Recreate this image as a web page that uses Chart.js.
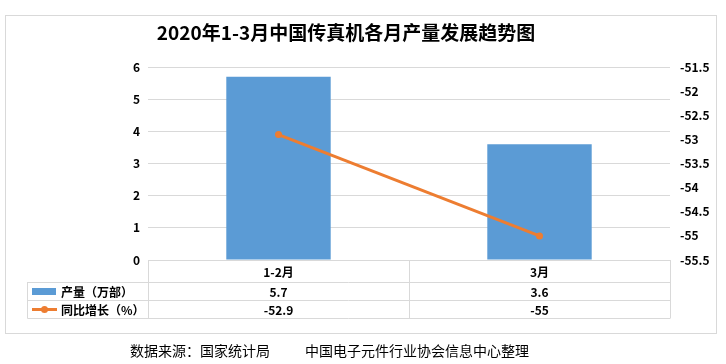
<!DOCTYPE html>
<html>
<head>
<meta charset="utf-8">
<script src="https://cdn.jsdelivr.net/npm/chart.js@4/dist/chart.umd.min.js"></script>
<style>
  html, body { margin: 0; padding: 0; background: #fff; }
  #wrap { width: 726px; height: 364px; }
</style>
</head>
<body>
<div id="wrap"><canvas id="comboChart" width="726" height="364"></canvas></div>
<script>
var months = ["1-2月", "3月"];
var outputValues = [5.7, 3.6];
var growthValues = [-52.9, -55];
var seriesNames = ["产量（万部）", "同比增长（%）"];
var chartTitle = "2020年1-3月中国传真机各月产量发展趋势图";
var sourceNotes = ["数据来源：国家统计局", "中国电子元件行业协会信息中心整理"];

var blue = "#5B9BD5";
var orange = "#ED7D31";
var gridGray = "#d9d9d9";
var cjk = '"Noto Sans CJK SC", "Noto Sans", sans-serif';

// frame, title, source note and the data table under the plot
var tablePlugin = {
  id: "tablePlugin",
  afterDraw: function (chart) {
    var ctx = chart.ctx;
    var area = chart.chartArea;
    var xs = chart.scales.x;
    var c0 = xs.getPixelForValue(0);
    var c1 = xs.getPixelForValue(1);
    var mid = (c0 + c1) / 2;
    var top = area.bottom;
    var r1 = top + 22, r2 = r1 + 18, r3 = r2 + 18;
    var legLeft = 27.5;

    ctx.save();
    // outer frame
    ctx.strokeStyle = gridGray;
    ctx.lineWidth = 1;
    ctx.strokeRect(5.5, 15.5, 711, 318);

    // title
    ctx.fillStyle = "#000";
    ctx.font = "bold 19px " + cjk;
    ctx.textAlign = "center";
    ctx.textBaseline = "middle";
    ctx.fillText(chartTitle, 346, 33);

    // table lines
    ctx.strokeStyle = gridGray;
    ctx.beginPath();
    ctx.moveTo(area.left, top + 0.5); ctx.lineTo(area.right, top + 0.5);
    [r1, r2, r3].forEach(function (y) {
      ctx.moveTo(legLeft, y + 0.5); ctx.lineTo(area.right, y + 0.5);
    });
    [area.left, mid, area.right].forEach(function (x) {
      var xx = Math.round(x) + 0.5;
      ctx.moveTo(xx, top); ctx.lineTo(xx, r3 + 0.5);
    });
    ctx.moveTo(legLeft, r1); ctx.lineTo(legLeft, r3 + 0.5);
    ctx.stroke();

    // header and values
    ctx.fillStyle = "#000";
    ctx.font = "bold 12px " + cjk;
    ctx.textAlign = "center";
    months.forEach(function (m, i) {
      var cx = xs.getPixelForValue(i);
      ctx.fillText(m, cx, (top + r1) / 2 + 1);
      ctx.fillText(String(outputValues[i]), cx, (r1 + r2) / 2 + 1);
      ctx.fillText(String(growthValues[i]), cx, (r2 + r3) / 2 + 1);
    });

    // legend keys
    ctx.fillStyle = blue;
    ctx.fillRect(32, (r1 + r2) / 2 - 3, 24, 7);
    ctx.strokeStyle = orange;
    ctx.lineWidth = 3;
    ctx.beginPath();
    ctx.moveTo(32, (r2 + r3) / 2 + 0.5);
    ctx.lineTo(57, (r2 + r3) / 2 + 0.5);
    ctx.stroke();
    ctx.fillStyle = orange;
    ctx.beginPath();
    ctx.arc(44.5, (r2 + r3) / 2 + 0.5, 3.5, 0, Math.PI * 2);
    ctx.fill();

    ctx.fillStyle = "#000";
    ctx.textAlign = "left";
    ctx.fillText(seriesNames[0], 61, (r1 + r2) / 2 + 1);
    ctx.fillText(seriesNames[1], 61, (r2 + r3) / 2 + 1);

    // source note
    ctx.font = "14px " + cjk;
    ctx.fillText(sourceNotes[0], 130, 351);
    ctx.fillText(sourceNotes[1], 305, 351);
    ctx.restore();
  }
};

var ctx = document.getElementById("comboChart").getContext("2d");

new Chart(ctx, {
  type: "bar",
  data: {
    labels: months,
    datasets: [{
      type: "line",
      label: seriesNames[1],
      data: growthValues,
      yAxisID: "y1",
      borderColor: orange,
      backgroundColor: orange,
      borderWidth: 3,
      pointRadius: 3.5,
      pointBackgroundColor: orange,
      pointBorderWidth: 0,
      tension: 0,
      order: 0
    }, {
      type: "bar",
      label: seriesNames[0],
      data: outputValues,
      yAxisID: "y",
      backgroundColor: blue,
      categoryPercentage: 0.8,
      barPercentage: 0.5,
      order: 1
    }]
  },
  options: {
    responsive: false,
    animation: false,
    layout: { padding: { left: 0, right: 0, top: 67, bottom: 104 } },
    plugins: {
      legend: { display: false },
      title: { display: false },
      tooltip: { enabled: false }
    },
    scales: {
      x: {
        display: false,
        grid: { display: false }
      },
      y: {
        position: "left",
        min: 0,
        max: 6,
        ticks: {
          stepSize: 1,
          padding: 8,
          color: "#000",
          font: { family: cjk, size: 12, weight: "bold" }
        },
        grid: { color: gridGray, drawTicks: false },
        border: { display: false },
        afterFit: function (scale) { scale.width = 148; }
      },
      y1: {
        position: "right",
        min: -55.5,
        max: -51.5,
        ticks: {
          stepSize: 0.5,
          padding: 10,
          color: "#000",
          font: { family: cjk, size: 12, weight: "bold" },
          callback: function (v) { return String(Math.round(v * 10) / 10); }
        },
        grid: { drawOnChartArea: false, drawTicks: false },
        border: { display: false },
        afterFit: function (scale) { scale.width = 56; }
      }
    }
  },
  plugins: [tablePlugin]
});
</script>
</body>
</html>
